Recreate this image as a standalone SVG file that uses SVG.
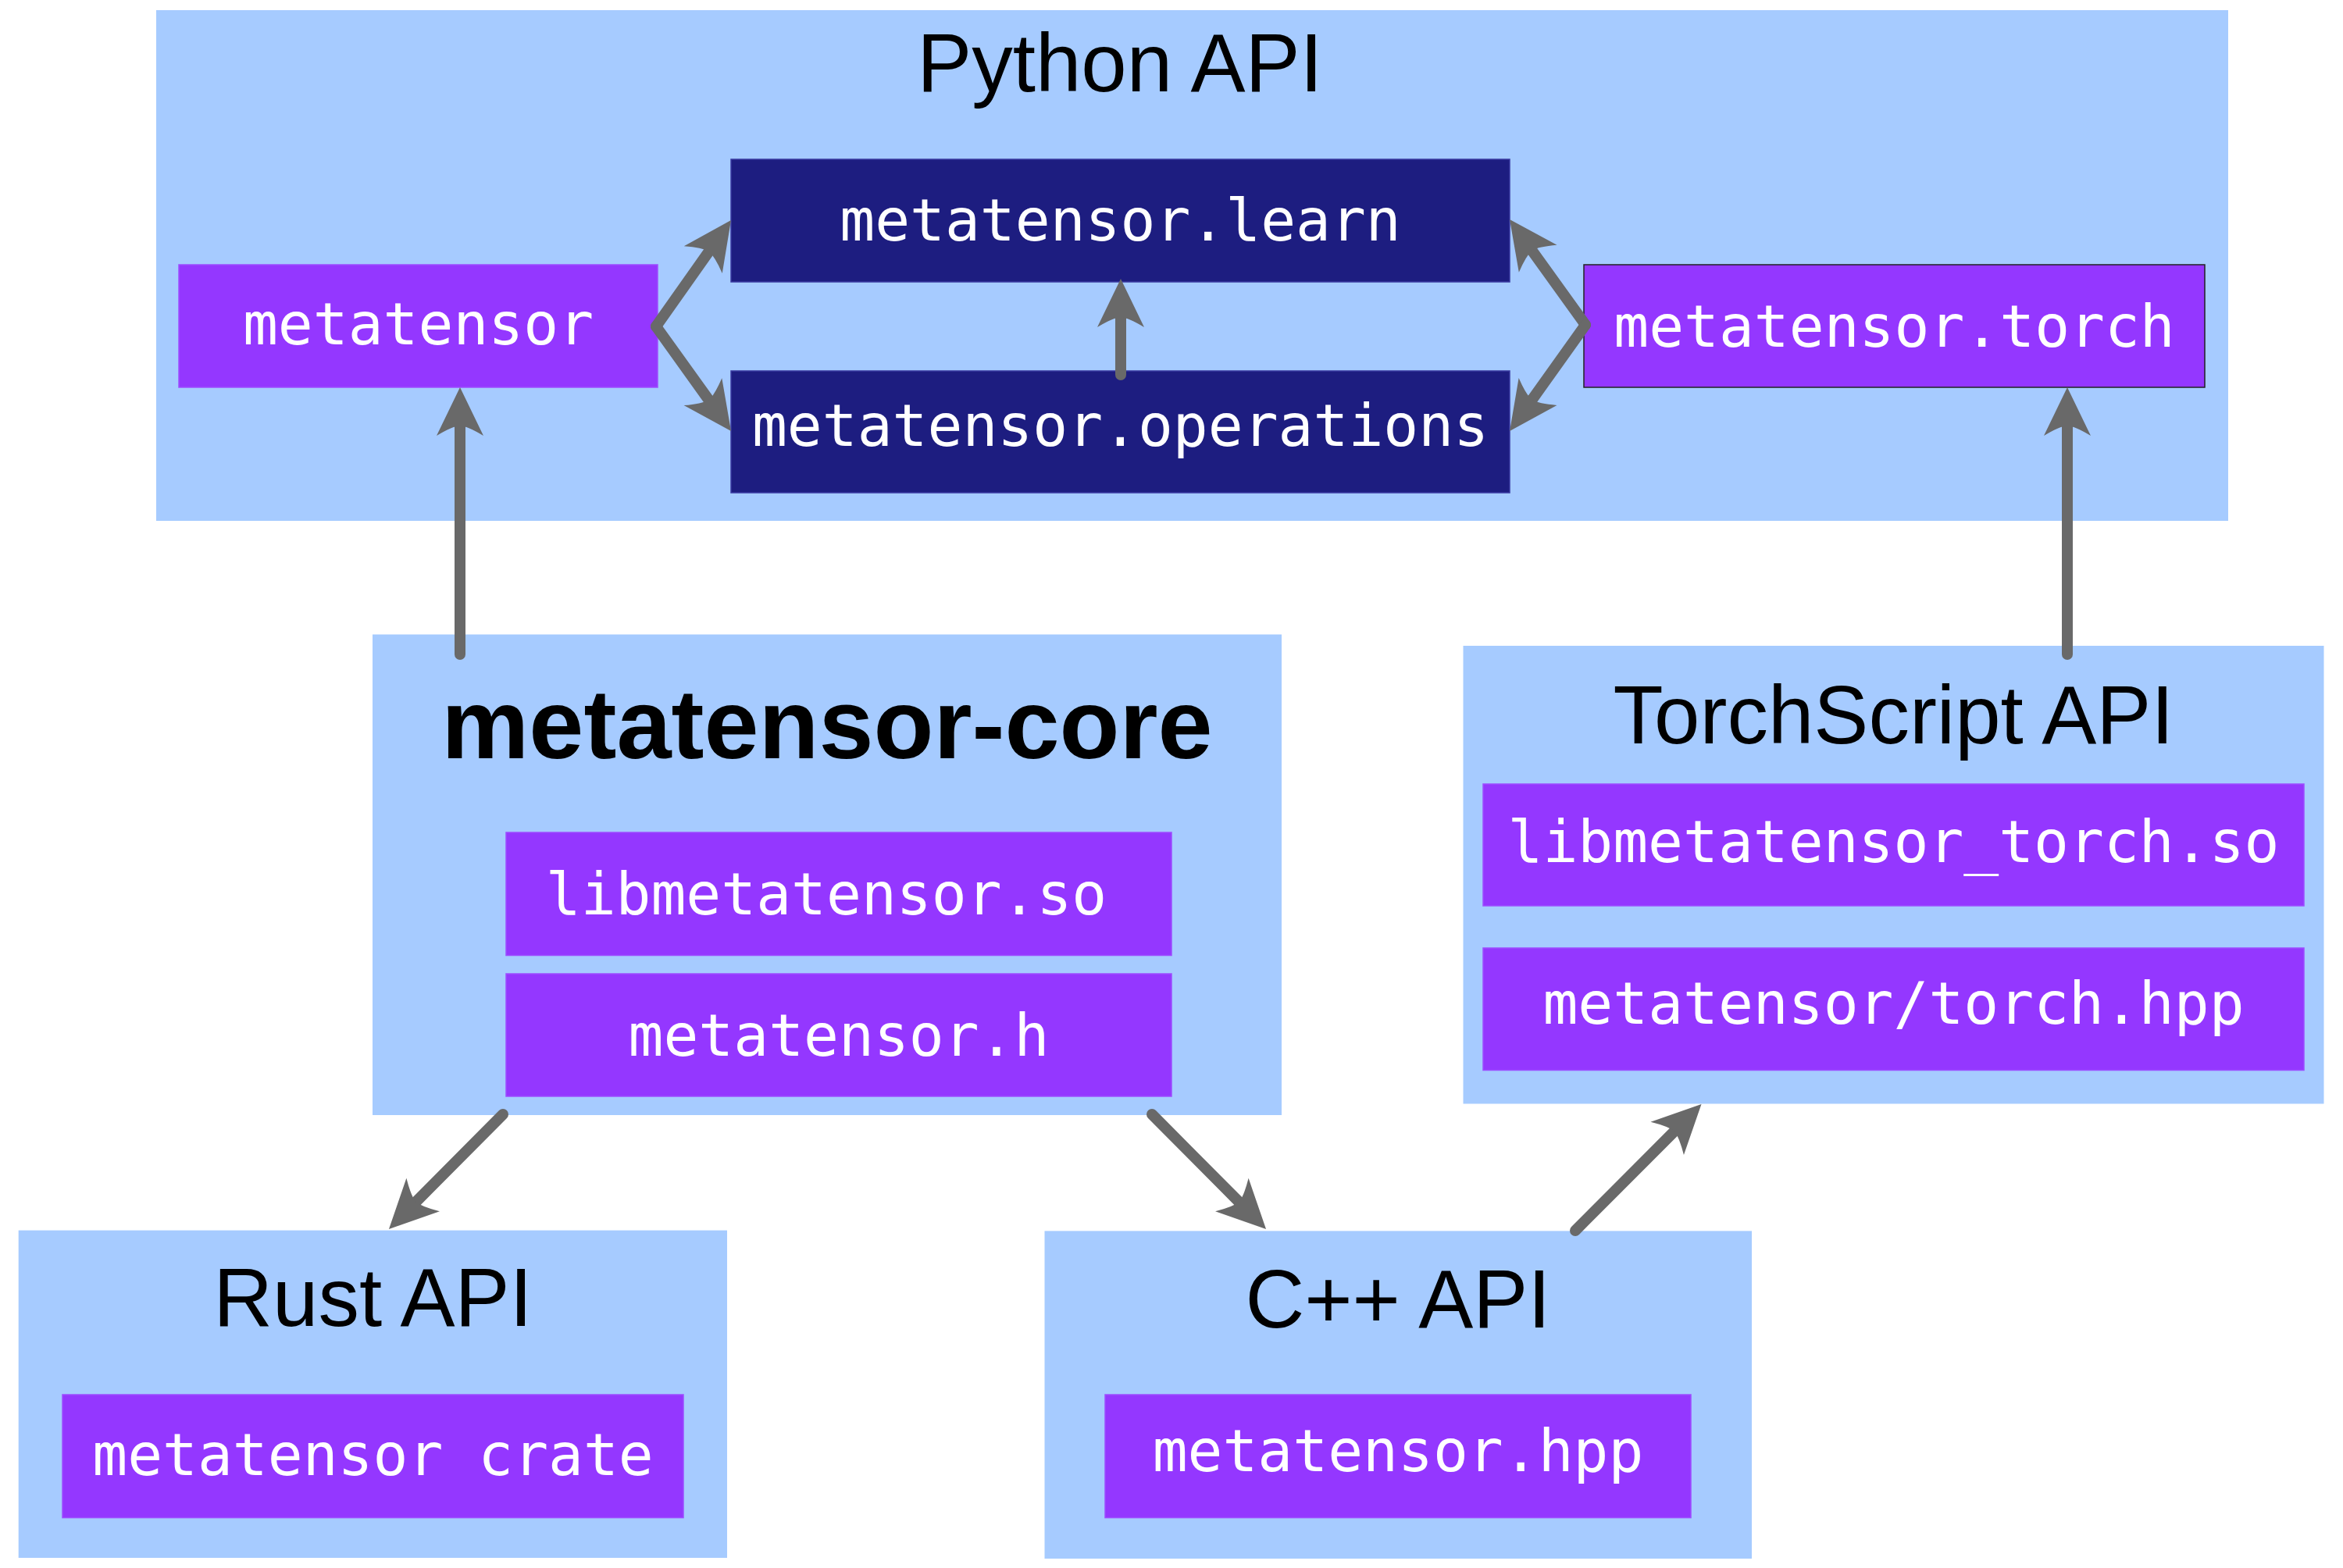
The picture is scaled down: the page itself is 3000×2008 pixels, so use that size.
<svg xmlns="http://www.w3.org/2000/svg" width="3000" height="2008" viewBox="0 0 3000 2008">
<style>
.grp{fill:#A6CBFF;}
.pur{fill:#9437FF;stroke:#9D4DFF;stroke-width:1.5;}
.navy{fill:#1D1D80;stroke:#3A3AA0;stroke-width:1.5;}
.mono{font-family:"DejaVu Sans Mono","Liberation Mono",monospace;font-size:74.6px;fill:#FFFFFF;text-anchor:middle;}
.title{font-family:"Liberation Sans",Arial,sans-serif;font-size:105px;fill:#000000;text-anchor:middle;}
.bold{font-family:"Liberation Sans",Arial,sans-serif;font-size:126px;font-weight:bold;fill:#000000;text-anchor:middle;}
.conn{fill:none;stroke:#696969;stroke-width:14;stroke-linecap:round;marker-end:url(#ah);}
</style>
<defs>
<marker id="ah" markerUnits="userSpaceOnUse" viewBox="-15 -32 66 64" markerWidth="66" markerHeight="64" refX="0" refY="0" orient="auto" overflow="visible">
<path d="M49,0 L-13,-30 Q-1,-10 0,0 Q-1,10 -13,30 Z" fill="#696969"/>
</marker>
</defs>
<rect width="3000" height="2008" fill="#FFFFFF"/>

<g id="python-api">
<rect class="grp" x="200" y="13" width="2653" height="654"/>
<text class="title" x="1434" y="117">Python API</text>
</g>
<g id="metatensor">
<rect class="pur" x="229" y="339" width="613" height="157"/>
<text class="mono" x="535.5" y="441">metatensor</text>
</g>
<g id="metatensor-learn">
<rect class="navy" x="936" y="204" width="997" height="157"/>
<text class="mono" x="1434.5" y="308">metatensor.learn</text>
</g>
<g id="metatensor-operations">
<rect class="navy" x="936" y="475" width="997" height="156"/>
<text class="mono" x="1434.5" y="571">metatensor.operations</text>
</g>
<g id="metatensor-torch">
<rect x="2028" y="339" width="795" height="157" fill="#9437FF" stroke="#222222" stroke-width="1.5"/>
<text class="mono" x="2425.5" y="444">metatensor.torch</text>
</g>

<g id="metatensor-core">
<rect class="grp" x="477" y="812.5" width="1164" height="615.5"/>
<text class="bold" x="1059" y="971">metatensor-core</text>
</g>
<g id="libmetatensor-so">
<rect class="pur" x="648" y="1066" width="852" height="157.5"/>
<text class="mono" x="1058" y="1171">libmetatensor.so</text>
</g>
<g id="metatensor-h">
<rect class="pur" x="648" y="1247" width="852" height="157"/>
<text class="mono" x="1074" y="1351.5">metatensor.h</text>
</g>

<g id="torchscript-api">
<rect class="grp" x="1873.5" y="827" width="1102" height="586.5"/>
<text class="title" x="2424.5" y="951.5">TorchScript API</text>
</g>
<g id="libmetatensor-torch-so">
<rect class="pur" x="1899" y="1004" width="1051" height="156"/>
<text class="mono" x="2424.5" y="1103.5">libmetatensor_torch.so</text>
</g>
<g id="metatensor-torch-hpp">
<rect class="pur" x="1899" y="1214" width="1051" height="156.5"/>
<text class="mono" x="2424.5" y="1311">metatensor/torch.hpp</text>
</g>

<g id="rust-api">
<rect class="grp" x="23.7" y="1575.6" width="907.3" height="419.4"/>
<text class="title" x="477.5" y="1698">Rust API</text>
</g>
<g id="metatensor-crate">
<rect class="pur" x="80" y="1786" width="795" height="157.6"/>
<text class="mono" x="477.5" y="1888.6">metatensor crate</text>
</g>

<g id="cpp-api">
<rect class="grp" x="1337.5" y="1576.4" width="905.5" height="419.6"/>
<text class="title" x="1790" y="1700">C++ API</text>
</g>
<g id="metatensor-hpp">
<rect class="pur" x="1415" y="1786" width="750" height="157.6"/>
<text class="mono" x="1790" y="1884">metatensor.hpp</text>
</g>

<g id="connectors">
<path class="conn" d="M589,838 L589,545"/>
<path class="conn" d="M2647,838 L2647,545"/>
<path class="conn" d="M1435,480 L1435,406"/>
<path class="conn" d="M840,418 L907.75,322"/>
<path class="conn" d="M840,418 L907.5,512.2"/>
<path class="conn" d="M2030,416 L1961.6,320.8"/>
<path class="conn" d="M2030,416 L1961.5,512.1"/>
<path class="conn" d="M644,1427 L532.5,1539.2"/>
<path class="conn" d="M1475,1427 L1586.5,1539.2"/>
<path class="conn" d="M2017,1576 L2143.9,1448.7"/>
</g>
</svg>
